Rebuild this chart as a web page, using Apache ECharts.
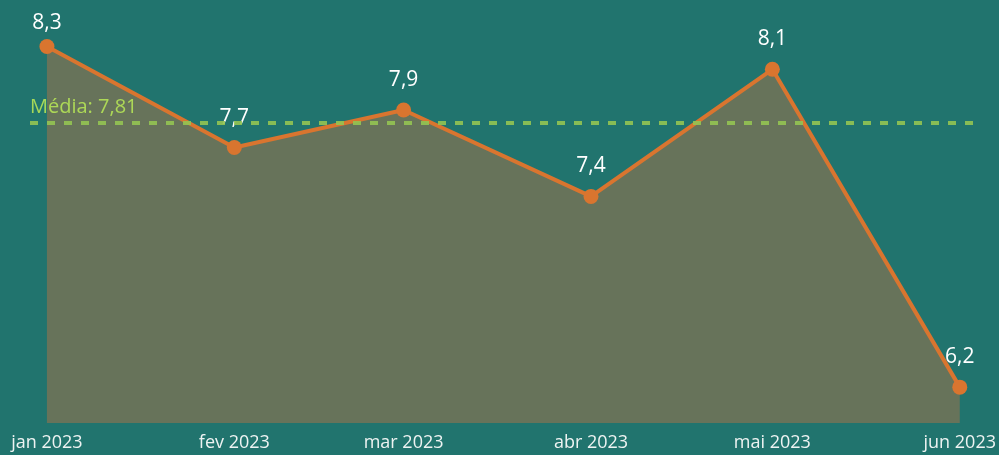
<!DOCTYPE html>
<html>
<head>
<meta charset="utf-8">
<script src="https://cdn.jsdelivr.net/npm/echarts@6/dist/echarts.min.js"></script>
<style>
  html, body { margin: 0; padding: 0; background: #21746E; }
  #chart { width: 999px; height: 455px; }
</style>
</head>
<body>
<div id="chart"></div>
<script>
// dados mensais
const meses = [[2023, 0], [2023, 1], [2023, 2], [2023, 3], [2023, 4], [2023, 5]];
const nomesMes = ['jan', 'fev', 'mar', 'abr', 'mai', 'jun'];
const valores = [8.28, 7.66, 7.89, 7.36, 8.14, 6.19];
const media = 7.81;

const DIA = 86400000;
const datas = meses.map(m => new Date(m[0], m[1], 1).getTime());

const fmt = v => v.toFixed(1).replace('.', ',');

var chart = echarts.init(document.getElementById('chart'));
chart.setOption({
  backgroundColor: '#21746E',
  animation: false,
  grid: { left: 30, right: 24, top: 0, bottom: 32 },
  xAxis: {
    type: 'value',
    min: datas[0] - 2.8 * DIA,
    max: datas[datas.length - 1] + 2.5 * DIA,
    axisLine: { show: false },
    axisTick: { show: false },
    splitLine: { show: false },
    axisLabel: {
      customValues: datas,
      color: '#EEF3F2',
      fontFamily: 'Open Sans',
      fontSize: 18,
      margin: 11,
      formatter: function (v) {
        var i = datas.indexOf(v);
        var d = new Date(v);
        return (i >= 0 ? nomesMes[i] : nomesMes[d.getMonth()]) + ' ' + d.getFullYear();
      }
    }
  },
  yAxis: {
    type: 'value',
    min: 5.97,
    max: 8.565,
    show: false,
    splitLine: { show: false }
  },
  series: [{
    type: 'line',
    data: datas.map((d, i) => {
      var item = { value: [d, valores[i]] };
      if (i === 0) item.label = { distance: 5 };
      return item;
    }),
    symbol: 'circle',
    symbolSize: 15,
    itemStyle: { color: '#D9752F' },
    lineStyle: { color: '#D9752F', width: 4 },
    areaStyle: { color: '#67735A', opacity: 1, origin: 'start' },
    label: {
      show: true,
      position: 'top',
      distance: 12,
      color: '#FFFFFF',
      fontFamily: 'Open Sans',
      fontSize: 21,
      formatter: p => fmt(p.value[1])
    },
    markLine: {
      silent: true,
      symbol: 'none',
      data: [{ yAxis: media }],
      lineStyle: { color: '#94C452', type: [8, 9], width: 4, opacity: 0.9 },
      label: {
        position: 'insideStartTop',
        distance: [0, 6],
        color: '#B5E356',
        fontFamily: 'Open Sans',
        fontSize: 20,
        formatter: 'Média: 7,81'
      }
    }
  }]
});
</script>
</body>
</html>
